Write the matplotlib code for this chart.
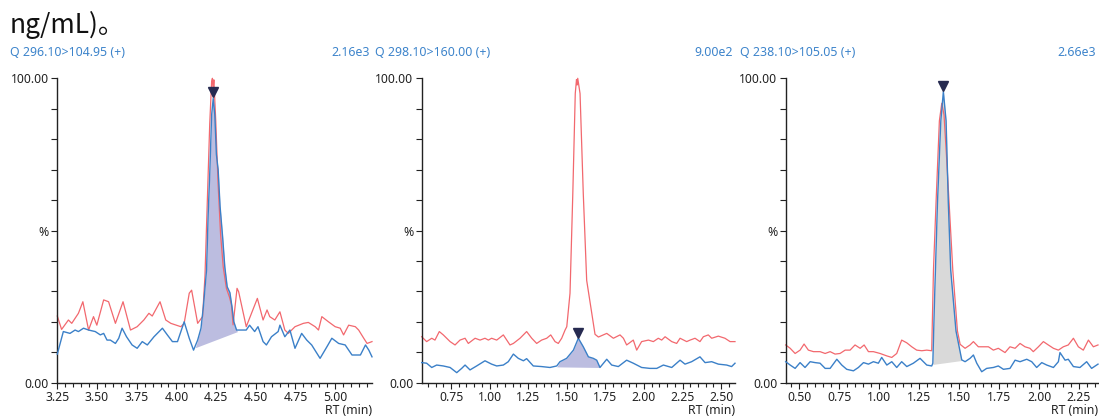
import matplotlib
matplotlib.use("Agg")
import matplotlib.pyplot as plt
from matplotlib.ticker import MultipleLocator

plt.rcParams['font.family'] = ['Noto Sans', 'DejaVu Sans']

title = "ng/mL)。"
headers = ["Q 296.10>104.95 (+)", "Q 298.10>160.00 (+)", "Q 238.10>105.05 (+)"]
intensities = ["2.16e3", "9.00e2", "2.66e3"]
xlims = [(3.25, 5.232), (0.56, 2.59), (0.414, 2.369)]

# panel 1 -- reference trace (red) and sample trace (blue)
red1_x = [3.250, 3.277, 3.320, 3.341, 3.383, 3.411, 3.447, 3.478, 3.499, 3.542, 3.573, 3.616,
          3.664, 3.711, 3.753, 3.795, 3.827, 3.848, 3.897, 3.933, 3.965, 4.028, 4.049, 4.081,
          4.096, 4.134, 4.165, 4.180, 4.195, 4.210, 4.222, 4.227, 4.231, 4.236, 4.248, 4.262,
          4.278, 4.295, 4.315, 4.335, 4.347, 4.357, 4.382, 4.392, 4.440, 4.510, 4.546, 4.571,
          4.588, 4.620, 4.652, 4.683, 4.705, 4.747, 4.800, 4.831, 4.874, 4.895, 4.916, 4.958,
          5.000, 5.032, 5.053, 5.085, 5.127, 5.148, 5.180, 5.201, 5.232]
red1_y = [21.9, 17.5, 20.6, 19.5, 22.8, 26.6, 17.3, 21.7, 18.9, 27.2, 26.6, 19.5,
          26.6, 17.3, 18.4, 20.6, 22.8, 21.9, 26.6, 20.6, 19.5, 18.4, 19.5, 29.4,
          30.4, 19.5, 21.7, 35.0, 60.0, 85.0, 99.0, 100.0, 96.5, 99.5, 86.0, 66.0,
          49.0, 38.0, 31.0, 28.0, 25.5, 19.0, 31.0, 29.9, 18.4, 27.7, 20.6, 23.9,
          21.7, 20.6, 23.3, 17.3, 16.2, 18.4, 19.5, 19.8, 18.4, 17.3, 21.7, 20.0,
          18.4, 17.9, 15.7, 18.9, 18.4, 17.3, 14.6, 12.9, 13.5]
blue1_x = [3.250, 3.288, 3.330, 3.362, 3.383, 3.415, 3.447, 3.489, 3.521, 3.542, 3.563, 3.584,
           3.616, 3.637, 3.658, 3.686, 3.721, 3.753, 3.785, 3.817, 3.859, 3.912, 3.943, 3.975,
           4.007, 4.049, 4.081, 4.108, 4.134, 4.155, 4.170, 4.190, 4.200, 4.211, 4.222, 4.232,
           4.242, 4.252, 4.263, 4.275, 4.291, 4.305, 4.320, 4.337, 4.350, 4.362, 4.379, 4.440,
           4.461, 4.493, 4.514, 4.546, 4.567, 4.599, 4.641, 4.652, 4.683, 4.715, 4.747, 4.789,
           4.821, 4.852, 4.905, 4.948, 4.979, 5.022, 5.063, 5.106, 5.159, 5.191, 5.212, 5.232]
blue1_y = [9.4, 16.8, 16.2, 17.3, 16.8, 17.9, 17.3, 16.8, 15.7, 16.2, 14.0, 14.0,
           12.9, 14.6, 17.9, 15.1, 12.4, 11.3, 13.5, 12.4, 15.1, 17.9, 15.7, 13.5,
           13.5, 20.0, 14.6, 10.7, 14.0, 17.9, 25.0, 37.0, 55.0, 70.0, 88.0, 93.4,
           88.0, 75.0, 70.0, 58.0, 48.0, 38.0, 31.5, 29.6, 25.0, 20.0, 17.3, 17.3,
           18.9, 16.8, 18.4, 13.5, 12.4, 15.1, 16.8, 18.9, 15.1, 17.3, 11.3, 16.2,
           14.0, 12.4, 8.0, 11.8, 14.6, 12.9, 12.4, 9.1, 9.1, 12.4, 10.7, 8.5]

# panel 2
red2_x = [0.560, 0.592, 0.625, 0.646, 0.674, 0.700, 0.744, 0.776, 0.808, 0.841, 0.862, 0.906,
          0.938, 0.970, 0.992, 1.013, 1.046, 1.089, 1.132, 1.154, 1.197, 1.240, 1.273, 1.305,
          1.337, 1.370, 1.396, 1.424, 1.445, 1.467, 1.489, 1.500, 1.521, 1.539, 1.555, 1.563,
          1.567, 1.571, 1.586, 1.607, 1.629, 1.662, 1.683, 1.705, 1.759, 1.802, 1.845, 1.867,
          1.888, 1.931, 1.953, 1.985, 2.029, 2.061, 2.093, 2.115, 2.137, 2.180, 2.212, 2.234,
          2.277, 2.299, 2.331, 2.363, 2.385, 2.417, 2.439, 2.482, 2.525, 2.558, 2.590]
red2_y = [15.1, 13.5, 14.6, 14.0, 16.8, 15.7, 13.5, 12.4, 14.0, 14.6, 12.9, 14.6,
          14.0, 14.6, 14.0, 14.6, 14.0, 15.7, 12.4, 12.9, 14.6, 16.8, 14.6, 12.9,
          14.0, 14.6, 15.7, 13.5, 12.9, 14.6, 17.3, 18.4, 29.4, 62.0, 95.0, 99.6,
          97.8, 100.0, 95.0, 62.0, 33.6, 22.8, 15.9, 15.0, 16.2, 14.6, 15.7, 14.6,
          12.4, 14.0, 10.7, 13.5, 14.0, 13.5, 14.6, 14.0, 15.1, 13.5, 12.9, 14.6,
          13.5, 14.0, 14.6, 13.5, 15.1, 15.7, 14.6, 15.3, 14.6, 13.5, 13.5]
blue2_x = [0.560, 0.592, 0.625, 0.657, 0.700, 0.744, 0.787, 0.819, 0.841, 0.873, 0.916, 0.970,
           1.013, 1.046, 1.089, 1.121, 1.154, 1.186, 1.219, 1.240, 1.283, 1.337, 1.391, 1.435,
           1.456, 1.499, 1.543, 1.575, 1.607, 1.640, 1.672, 1.694, 1.715, 1.759, 1.791, 1.834,
           1.888, 1.931, 1.985, 2.039, 2.083, 2.126, 2.180, 2.234, 2.266, 2.309, 2.363, 2.396,
           2.439, 2.482, 2.536, 2.568, 2.590]
blue2_y = [6.6, 6.4, 5.0, 5.8, 5.5, 5.0, 3.3, 4.7, 5.8, 4.2, 5.5, 7.2,
           6.1, 5.5, 5.8, 6.9, 9.4, 8.0, 7.2, 7.9, 5.5, 5.3, 5.0, 5.5,
           6.9, 8.0, 10.7, 14.6, 11.8, 8.5, 8.0, 7.4, 5.0, 7.7, 5.8, 5.3,
           7.4, 6.4, 5.0, 4.7, 4.7, 5.8, 5.0, 7.4, 6.1, 6.9, 8.5, 6.6,
           6.9, 6.1, 5.8, 5.3, 6.4]

# panel 3
red3_x = [0.414, 0.442, 0.473, 0.504, 0.529, 0.556, 0.588, 0.629, 0.661, 0.692, 0.723, 0.754,
          0.786, 0.817, 0.848, 0.880, 0.905, 0.932, 0.963, 1.005, 1.047, 1.078, 1.109, 1.140,
          1.172, 1.203, 1.234, 1.266, 1.297, 1.328, 1.339, 1.355, 1.376, 1.391, 1.405, 1.420,
          1.437, 1.460, 1.489, 1.506, 1.537, 1.568, 1.589, 1.620, 1.651, 1.683, 1.714, 1.745,
          1.787, 1.818, 1.850, 1.881, 1.912, 1.943, 1.964, 1.996, 2.027, 2.058, 2.090, 2.121,
          2.152, 2.183, 2.215, 2.246, 2.277, 2.309, 2.340, 2.369]
red3_y = [12.4, 11.3, 9.6, 10.7, 12.7, 10.7, 10.2, 10.2, 9.6, 10.2, 9.4, 9.6,
          10.7, 10.7, 12.4, 11.3, 12.4, 10.2, 10.2, 9.6, 8.8, 8.3, 9.6, 14.0,
          13.1, 11.8, 10.7, 10.5, 10.7, 10.5, 37.0, 59.0, 86.0, 91.8, 88.0, 75.0,
          59.0, 37.0, 17.0, 12.6, 11.3, 12.4, 13.5, 11.8, 11.8, 11.8, 10.7, 11.3,
          9.9, 11.8, 11.3, 12.9, 11.8, 11.3, 10.2, 11.8, 13.5, 12.4, 11.3, 10.7,
          11.8, 12.4, 14.6, 11.8, 10.7, 14.0, 11.8, 12.4]
blue3_x = [0.414, 0.442, 0.473, 0.504, 0.535, 0.567, 0.598, 0.629, 0.661, 0.692, 0.734, 0.765,
           0.796, 0.838, 0.869, 0.901, 0.932, 0.963, 0.994, 1.015, 1.047, 1.078, 1.109, 1.140,
           1.172, 1.213, 1.255, 1.297, 1.328, 1.335, 1.345, 1.364, 1.385, 1.401, 1.418, 1.432,
           1.447, 1.480, 1.516, 1.537, 1.568, 1.589, 1.610, 1.641, 1.672, 1.714, 1.745, 1.777,
           1.818, 1.850, 1.881, 1.923, 1.954, 1.985, 2.017, 2.048, 2.090, 2.121, 2.131, 2.163,
           2.183, 2.215, 2.256, 2.298, 2.329, 2.369]
blue3_y = [6.9, 5.8, 4.7, 6.6, 5.0, 6.9, 6.6, 6.4, 4.7, 4.7, 7.7, 5.8,
           4.4, 3.9, 5.0, 6.6, 6.1, 6.9, 6.4, 8.3, 5.8, 6.9, 5.0, 6.9,
           5.3, 6.4, 8.0, 5.8, 5.5, 6.4, 26.0, 59.0, 86.0, 95.6, 86.0, 59.0,
           37.0, 17.0, 7.5, 6.9, 8.0, 9.1, 6.4, 3.6, 4.7, 5.0, 5.5, 4.4,
           4.7, 7.4, 6.9, 7.7, 6.9, 5.0, 6.6, 5.8, 5.0, 6.9, 9.9, 7.4,
           7.7, 5.3, 5.0, 6.9, 4.7, 6.1]

# integrated peak: start/end of baseline, apex
peak_start = [(4.119, 11.5), (1.435, 5.2), (1.335, 6.0)]
peak_end = [(4.385, 16.8), (1.715, 5.0), (1.516, 7.3)]
apex = [(4.232, 95.5), (1.575, 16.3), (1.401, 97.4)]
fill_colors = ["#bcbde0", "#bcbde0", "#d9d9d9"]

reds = [(red1_x, red1_y), (red2_x, red2_y), (red3_x, red3_y)]
blues = [(blue1_x, blue1_y), (blue2_x, blue2_y), (blue3_x, blue3_y)]

RED = "#f2686e"
BLUE = "#3b80c8"
HEAD = "#3d84cb"
INK = "#222222"

fig = plt.figure(figsize=(10.99, 4.18), dpi=100)
fig.text(10 / 1099, 1 - 33 / 418, title, fontsize=19, va="baseline", color="#111111",
         family=["Noto Sans CJK SC", "DejaVu Sans"])

lefts = [57.3, 421.7, 785.7]
rights = [372, 735, 1098]
header_x = [10, 375, 740]
for i in range(3):
    l, r = lefts[i] / 1099, rights[i] / 1099
    ax = fig.add_axes([l, 35.3 / 418, r - l, 304.4 / 418])
    rx, ry = reds[i]
    bx, by = blues[i]
    ax.plot(rx, ry, color=RED, lw=0.9, clip_on=False, zorder=2, solid_joinstyle="round")
    ax.plot(bx, by, color=BLUE, lw=1.0, clip_on=False, zorder=3, solid_joinstyle="round")

    # shaded integration area between blue trace and straight baseline
    x0, y0 = peak_start[i]
    x1, y1 = peak_end[i]
    px = [x0] + [x for x in bx if x0 < x < x1] + [x1]
    py = [y0] + [y for x, y in zip(bx, by) if x0 < x < x1] + [y1]
    base = [y0 + (y1 - y0) * (x - x0) / (x1 - x0) for x in px]
    ax.fill_between(px, base, py, color=fill_colors[i], lw=0, zorder=1)
    ax.plot(*apex[i], marker="v", color="#262a50", ms=7, clip_on=False, zorder=4)

    ax.set_xlim(*xlims[i])
    ax.set_ylim(0, 100)
    for s in ["top", "right"]:
        ax.spines[s].set_visible(False)
    for s in ["left", "bottom"]:
        ax.spines[s].set_color(INK)
        ax.spines[s].set_linewidth(1.0)
    ax.xaxis.set_major_locator(MultipleLocator(0.25))
    ax.xaxis.set_minor_locator(MultipleLocator(0.05))
    ax.xaxis.set_major_formatter(plt.FuncFormatter(lambda v, p: f"{v:.2f}"))
    ax.set_yticks(range(0, 101, 10))
    ax.set_yticklabels(["0.00", "", "", "", "", "%", "", "", "", "", "100.00"])
    ax.tick_params(which="both", direction="out", colors=INK, labelsize=8.8, width=0.8)
    ax.tick_params(which="major", length=4, pad=2)
    ax.tick_params(which="minor", length=3)
    ax.text(1.0, -0.09, "RT (min)", transform=ax.transAxes, ha="right", va="center",
            fontsize=8.8, color=INK)

    fig.text(header_x[i] / 1099, 1 - 52 / 418, headers[i], fontsize=8.9, color=HEAD,
             va="center", ha="left")
    fig.text(rights[i] / 1099 - 2 / 1099, 1 - 52 / 418, intensities[i], fontsize=8.9,
             color=HEAD, va="center", ha="right")

fig.savefig("out.png", dpi=100)
